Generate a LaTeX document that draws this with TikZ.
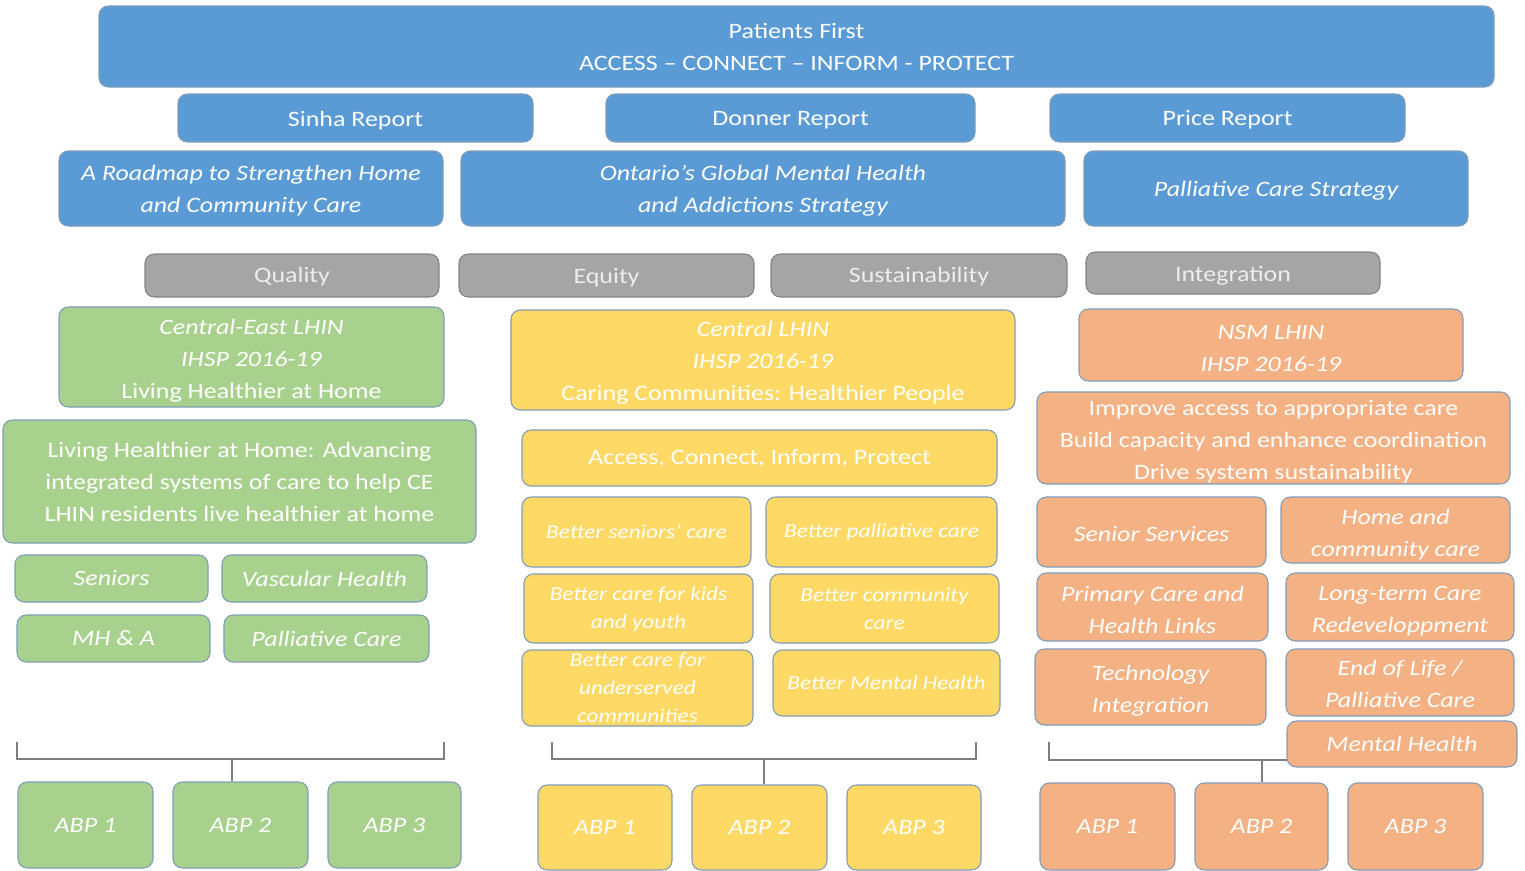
\documentclass[tikz,border=0pt]{standalone}
\usepackage{fontspec}
\setmainfont{Carlito}[FakeStretch=1.18]
\definecolor{cblue}{HTML}{5B9BD5}
\definecolor{cgreen}{HTML}{A9D18E}
\definecolor{cyellow}{HTML}{FFD966}
\definecolor{corange}{HTML}{F4B183}
\definecolor{cgray}{HTML}{A5A5A5}
\definecolor{edge}{HTML}{7F9DB9}
\definecolor{brk}{HTML}{7F7F7F}
% name, x1, y1, x2, y2, box style, text style, text
\newcommand\bx[8]{\node[#6, minimum width={(#4-#2)*0.75pt}, minimum height={(#5-#3)*0.75pt},
  label={[#7]center:{#8}}] (#1) at ({(#2+#4)/2},{(#3+#5)/2}) {};}
\tikzset{
  base/.style={draw=edge, line width=0.8pt, rounded corners=7pt, inner sep=0pt},
  bluebox/.style={base, fill=cblue},
  graybox/.style={base, fill=cgray, draw=cgray!80!black},
  greenbox/.style={base, fill=cgreen},
  yellowbox/.style={base, fill=cyellow},
  orangebox/.style={base, fill=corange},
  txt/.style={inner sep=0pt, align=center, text=white, font=\fontsize{16.5}{24}\selectfont},
  itxt/.style={txt, font=\fontsize{16.5}{24}\selectfont\itshape},
  stxt/.style={txt, font=\fontsize{14.8}{21}\selectfont\itshape},
  gtxt/.style={txt, text=white!93!black},
  dn/.style={yshift=-#1*0.75pt},
  brace/.style={draw=brk, line width=1.2pt}
}
\begin{document}
\begin{tikzpicture}[x=0.75pt,y=-0.75pt]
\useasboundingbox (0,0) rectangle (1525,871);
% brackets
\coordinate (gL) at (17,742); \coordinate (gR) at (444,742); \coordinate (gJ) at (232,759);
\coordinate (yL) at (552,742); \coordinate (yR) at (976,742); \coordinate (yJ) at (764,759);
\coordinate (oL) at (1049,742); \coordinate (oR) at (1300,742); \coordinate (oJ) at (1262,760);
\draw[brace] (gL) |- (gJ) -| (gR);
\draw[brace] (yL) |- (yJ) -| (yR);
\draw[brace] (oL) |- (oJ) -| (oR);
% top
\bx{pf}{99}{6}{1494}{87}{bluebox}{txt}{Patients First\\ACCESS -- CONNECT -- INFORM - PROTECT}
\bx{sinha}{178}{94}{533}{142}{bluebox}{txt,dn=2.5}{Sinha Report}
\bx{donner}{606}{94}{975}{142}{bluebox}{txt,dn=2}{Donner Report}
\bx{price}{1050}{94}{1405}{142}{bluebox}{txt,dn=2}{Price Report}
\bx{road}{59}{151}{443}{226}{bluebox}{itxt,dn=2}{A Roadmap to Strengthen Home\\and Community Care}
\bx{ont}{461}{151}{1065}{226}{bluebox}{itxt,dn=2}{Ontario’s Global Mental Health\\and Addictions Strategy}
\bx{pcs}{1084}{151}{1468}{226}{bluebox}{itxt,dn=2}{Palliative Care Strategy}
% gray
\bx{qual}{145}{254}{439}{297}{graybox}{gtxt,dn=1.5}{Quality}
\bx{equ}{459}{254}{754}{297}{graybox}{gtxt,dn=2.5}{Equity}
\bx{sus}{771}{254}{1067}{297}{graybox}{gtxt,dn=1.5}{Sustainability}
\bx{integ}{1086}{252}{1380}{294}{graybox}{gtxt,dn=3}{Integration}
% green
\bx{ce}{59}{307}{444}{407}{greenbox}{txt,dn=3.5}{\textit{Central-East LHIN}\\\textit{IHSP 2016-19}\\Living Healthier at Home}
\bx{lh}{3}{420}{476}{543}{greenbox}{txt}{Living Healthier at Home: Advancing\\integrated systems of care to help CE\\LHIN residents live healthier at home}
\bx{sen}{15}{555}{208}{602}{greenbox}{itxt}{Seniors}
\bx{vas}{222}{555}{427}{602}{greenbox}{itxt}{Vascular Health}
\bx{mha}{17}{615}{210}{662}{greenbox}{itxt}{MH \& A}
\bx{gpal}{224}{615}{429}{662}{greenbox}{itxt}{Palliative Care}
% yellow
\bx{cl}{511}{310}{1015}{410}{yellowbox}{txt,dn=3}{\textit{Central LHIN}\\\textit{IHSP 2016-19}\\Caring Communities: Healthier People}
\bx{acip}{522}{430}{997}{486}{yellowbox}{txt}{Access, Connect, Inform, Protect}
\bx{bsc}{522}{497}{751}{567}{yellowbox}{stxt}{Better seniors’ care}
\bx{bpc}{766}{497}{997}{567}{yellowbox}{stxt}{Better palliative care}
\bx{bky}{524}{574}{753}{643}{yellowbox}{stxt,dn=1}{Better care for kids\\and youth}
\bx{bcc}{770}{574}{999}{643}{yellowbox}{stxt}{Better community\\care}
\bx{buc}{522}{650}{753}{726}{yellowbox}{stxt}{Better care for\\underserved\\communities}
\bx{bmh}{773}{650}{1000}{716}{yellowbox}{stxt}{Better Mental Health}
% orange
\bx{nsm}{1079}{309}{1463}{381}{orangebox}{itxt,dn=3}{NSM LHIN\\IHSP 2016-19}
\bx{imp}{1037}{392}{1510}{484}{orangebox}{txt,dn=3.5}{Improve access to appropriate care\\Build capacity and enhance coordination\\Drive system sustainability}
\bx{ss}{1037}{497}{1266}{567}{orangebox}{itxt,dn=2}{Senior Services}
\bx{hcc}{1281}{497}{1510}{563}{orangebox}{itxt,dn=5}{Home and\\community care}
\bx{pchl}{1037}{573}{1268}{641}{orangebox}{itxt,dn=2.5}{Primary Care and\\Health Links}
\bx{ltc}{1286}{573}{1514}{641}{orangebox}{itxt,dn=4}{Long-term Care\\Redeveloppment}
\bx{tech}{1035}{649}{1266}{725}{orangebox}{itxt,dn=4}{Technology\\Integration}
\bx{eol}{1286}{649}{1514}{716}{orangebox}{itxt,dn=1}{End of Life /\\Palliative Care}
\bx{omh}{1287}{721}{1517}{767}{orangebox}{itxt}{Mental Health}
% ABP
\bx{g1}{18}{782}{153}{868}{greenbox}{itxt}{ABP 1}
\bx{g2}{173}{782}{308}{868}{greenbox}{itxt}{ABP 2}
\bx{g3}{328}{782}{461}{868}{greenbox}{itxt}{ABP 3}
\bx{y1}{538}{785}{672}{870}{yellowbox}{itxt}{ABP 1}
\bx{y2}{692}{785}{827}{870}{yellowbox}{itxt}{ABP 2}
\bx{y3}{847}{785}{981}{870}{yellowbox}{itxt}{ABP 3}
\bx{o1}{1040}{783}{1175}{870}{orangebox}{itxt}{ABP 1}
\bx{o2}{1195}{783}{1328}{870}{orangebox}{itxt}{ABP 2}
\bx{o3}{1348}{783}{1483}{870}{orangebox}{itxt}{ABP 3}
% stems
\draw[brace] (gJ) -- (gJ |- g2.north);
\draw[brace] (yJ) -- (yJ |- y2.north);
\draw[brace] (oJ) -- (oJ |- o2.north);
\end{tikzpicture}
\end{document}
